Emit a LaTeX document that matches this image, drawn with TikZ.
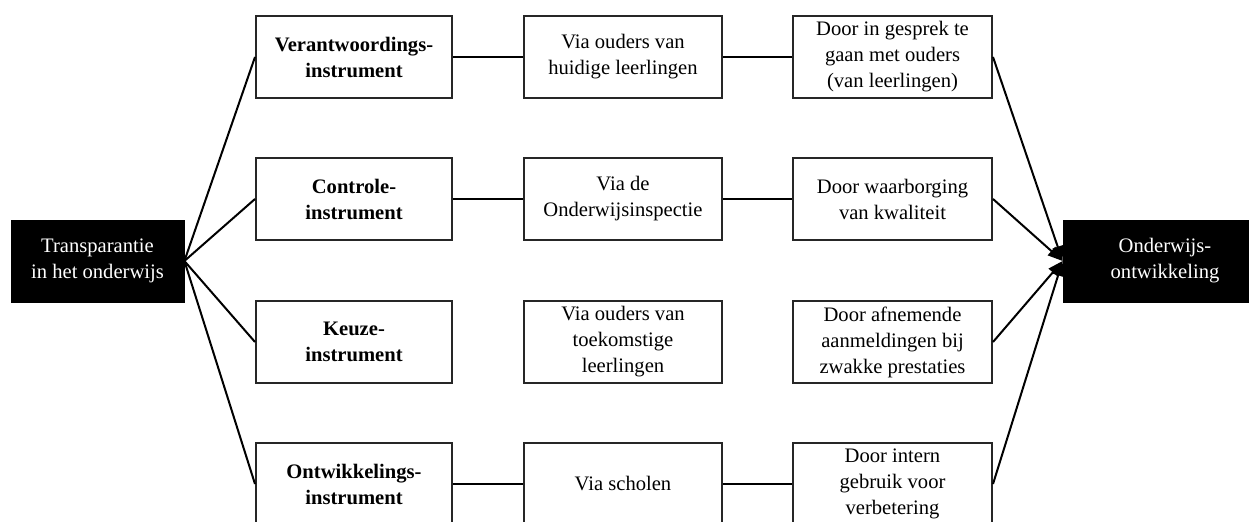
\documentclass[tikz,border=0pt]{standalone}
\usepackage{fontspec}
\setmainfont{Liberation Serif}
\usetikzlibrary{arrows.meta}
\begin{document}
\begin{tikzpicture}[x=0.5pt,y=-0.5pt,
  box/.style={draw=black!85,line width=1pt,fill=white,minimum height=41pt,inner sep=1pt,align=center,font=\fontsize{10.3}{13}\selectfont},
  c1/.style={box,minimum width=98pt,font=\fontsize{10.3}{13}\selectfont\bfseries},
  c2/.style={box,minimum width=99pt},
  c3/.style={box,minimum width=99.5pt},
  dark/.style={draw=black,fill=black,text=white,minimum height=41pt,inner sep=1pt,align=center,font=\fontsize{10.3}{13}\selectfont},
  link/.style={line width=1pt,black},
  arr/.style={link,-{Triangle[length=7.5pt,width=5.5pt]}}]
\useasboundingbox (0,0) rectangle (1249,522);
\node[dark,minimum width=86.5pt] (L) at (97.5,261) {Transparantie\\in het onderwijs};
\node[dark,minimum width=102pt] (R) at (1165,261) {Onderwijs-\\ontwikkeling};
% column 1
\node[c1] (a1) at (354,57) {Verantwoordings-\\instrument};
\node[c1] (a2) at (354,199) {Controle-\\instrument};
\node[c1] (a3) at (354,342) {Keuze-\\instrument};
\node[c1] (a4) at (354,484) {Ontwikkelings-\\instrument};
% column 2
\node[c2] (b1) at (623,57) {Via ouders van\\huidige leerlingen};
\node[c2] (b2) at (623,199) {Via de\\Onderwijsinspectie};
\node[c2] (b3) at (623,342) {Via ouders van\\toekomstige\\leerlingen};
\node[c2] (b4) at (623,484) {Via scholen};
% column 3
\node[c3] (d1) at (892.5,57) {Door in gesprek te\\gaan met ouders\\(van leerlingen)};
\node[c3] (d2) at (892.5,199) {Door waarborging\\van kwaliteit};
\node[c3] (d3) at (892.5,342) {Door afnemende\\aanmeldingen bij\\zwakke prestaties};
\node[c3] (d4) at (892.5,484) {Door intern\\gebruik voor\\verbetering};
% connectors
\foreach \i in {1,2,3,4}{
  \draw[link] (L.east) -- (a\i.west);
  \draw[arr] (d\i.east) -- (R.west);
}
\draw[link] (a1) -- (b1); \draw[link] (b1) -- (d1);
\draw[link] (a2) -- (b2); \draw[link] (b2) -- (d2);
\draw[link] (a4) -- (b4); \draw[link] (b4) -- (d4);
\end{tikzpicture}
\end{document}
